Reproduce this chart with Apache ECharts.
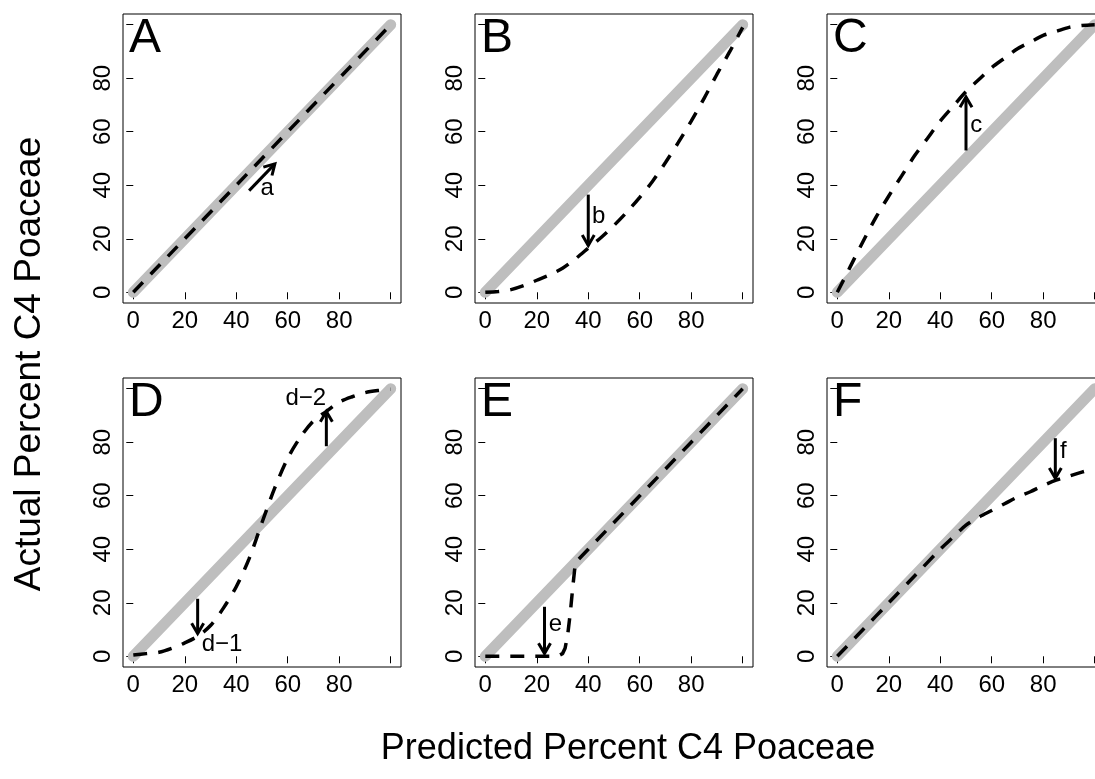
<!DOCTYPE html>
<html>
<head>
<meta charset="utf-8">
<script src="https://cdn.jsdelivr.net/npm/echarts@6/dist/echarts.min.js"></script>
<style>
  html, body { margin: 0; padding: 0; background: #fff; }
  #chart { width: 1095px; height: 779px; }
</style>
</head>
<body>
<div id="chart"></div>
<script>
// panels
const panelNames = ['A', 'B', 'C', 'D', 'E', 'F']

// 1:1 reference line (grey)
const oneToOneX = [0, 100]
const oneToOneY = [0, 100]

// dashed curves: predicted (x) vs actual (y)
const predA = [0, 100]
const actualA = [0, 100]
const predB = [0, 5, 10, 15, 20, 25, 30, 35, 40, 45, 50, 55, 60, 65, 70, 75, 80, 85, 90, 95, 100]
const actualB = [0, 0.3, 1, 2.5, 4.5, 6.5, 9, 12.5, 16.5, 20.5, 25, 30, 35.5, 41.5, 48.5, 56, 64, 72.5, 81.5, 90, 99]
const predC = [0, 5, 10, 15, 20, 25, 30, 35, 40, 45, 50, 55, 60, 65, 70, 75, 80, 85, 90, 95, 100]
const actualC = [0, 9.5, 19, 28, 36, 43.5, 51, 57.5, 64, 69.5, 75, 79.5, 84, 87.5, 91, 93.5, 96, 97.5, 99, 99.7, 100]
const predD = [0, 5, 10, 15, 20, 25, 30, 35, 40, 45, 50, 55, 60, 65, 70, 75, 80, 85, 90, 95, 100]
const actualD = [0.5, 1, 1.5, 3, 5, 7.5, 11.5, 18, 26, 36.5, 50, 63, 74, 82, 88, 91.5, 95, 97, 98.5, 99.3, 99.8]
const predE = [0, 10, 20, 27, 29, 30, 31, 32, 33, 34, 35, 40, 50, 60, 70, 80, 90, 100]
const actualE = [0, 0, 0, 0, 0.5, 1, 3, 8, 16, 26, 35, 40, 50, 60, 70, 80, 90, 100]
const predF = [0, 10, 20, 30, 40, 45, 50, 55, 60, 65, 70, 75, 80, 85, 90, 95, 100]
const actualF = [0, 10, 20, 30, 40, 44.5, 49, 52, 54.5, 57, 59.5, 61.5, 63.8, 65.8, 67.3, 68.8, 70.2]

const predAll = [predA, predB, predC, predD, predE, predF]
const actualAll = [actualA, actualB, actualC, actualD, actualE, actualF]

// arrows (tail -> head) and their letters
const arrowPanel = [0, 1, 2, 3, 3, 4, 5]
const arrowFrom = [[45, 38], [40, 36.5], [50, 53], [25, 21.5], [75, 78.5], [23, 18.5], [84.7, 81.5]]
const arrowTo = [[55, 48], [40, 17.5], [50, 73], [25, 8.5], [75, 91.5], [23, 1], [84.7, 66.5]]
const arrowText = ['a', 'b', 'c', 'd−1', 'd−2', 'e', 'f']
const arrowTextAt = [[52, 39], [44, 28.5], [54, 62.5], [34.5, 4.5], [67, 96.2], [27.2, 12], [87.8, 76.6]]

// ticks
const tickValues = [0, 20, 40, 60, 80, 100]
const labelValues = [0, 20, 40, 60, 80]

const fontFamily = '"Liberation Sans", Arial, Helvetica, sans-serif'
const colLeft = [123, 475, 827]
const rowTop = [14, 378]
const boxW = 278
const boxH = 289

const chart = echarts.init(document.getElementById('chart'))

const grids = []
const xAxes = []
const yAxes = []
const titles = []
const series = []

panelNames.forEach((name, i) => {
  const left = colLeft[i % 3]
  const top = rowTop[Math.floor(i / 3)]
  grids.push({
    left: left, top: top, width: boxW, height: boxH,
    outerBoundsMode: 'none',
    containLabel: false,
    show: true, borderColor: '#000', borderWidth: 1, backgroundColor: 'transparent'
  })
  const axisCommon = {
    gridIndex: i,
    type: 'value',
    min: -4,
    max: 104,
    axisLine: { show: false },
    splitLine: { show: false },
    axisTick: { show: true, length: 7, customValues: tickValues, lineStyle: { color: '#000', width: 1 } },
    axisLabel: { customValues: labelValues, fontSize: 24, color: '#000', fontFamily: fontFamily }
  }
  xAxes.push(Object.assign({}, axisCommon, {
    axisLabel: Object.assign({}, axisCommon.axisLabel, { margin: 6 })
  }))
  yAxes.push(Object.assign({}, axisCommon, {
    axisLabel: Object.assign({}, axisCommon.axisLabel, { margin: 8, rotate: 90 })
  }))
  titles.push({
    text: name,
    left: left + 6,
    top: top + 1,
    padding: 0,
    textStyle: { fontSize: 48, fontWeight: 'normal', color: '#000', fontFamily: fontFamily }
  })

  // grey 1:1 line
  series.push({
    type: 'line',
    xAxisIndex: i,
    yAxisIndex: i,
    data: oneToOneX.map((x, k) => [x, oneToOneY[k]]),
    symbol: 'none',
    silent: true,
    z: 1,
    lineStyle: { color: '#bebebe', width: 11, cap: 'round' }
  })
  // dashed actual curve
  series.push({
    type: 'line',
    xAxisIndex: i,
    yAxisIndex: i,
    data: predAll[i].map((x, k) => [x, actualAll[i][k]]),
    symbol: 'none',
    smooth: name === 'E' ? false : 0.3,
    silent: true,
    z: 2,
    lineStyle: { color: '#000', width: 3.5, type: [14, 11] }
  })
  // arrows with letters
  const arrowData = []
  arrowPanel.forEach((p, k) => {
    if (p === i) arrowData.push([arrowFrom[k][0], arrowFrom[k][1], arrowTo[k][0], arrowTo[k][1], k])
  })
  series.push({
    type: 'custom',
    xAxisIndex: i,
    yAxisIndex: i,
    data: arrowData,
    encode: { x: [0, 2], y: [1, 3] },
    silent: true,
    z: 3,
    renderItem: function (params, api) {
      const k = api.value(4)
      const p0 = api.coord([api.value(0), api.value(1)])
      const p1 = api.coord([api.value(2), api.value(3)])
      const ang = Math.atan2(p1[1] - p0[1], p1[0] - p0[0])
      const len = 12
      const spread = Math.PI / 6
      const h1 = [p1[0] - len * Math.cos(ang - spread), p1[1] - len * Math.sin(ang - spread)]
      const h2 = [p1[0] - len * Math.cos(ang + spread), p1[1] - len * Math.sin(ang + spread)]
      const t = api.coord(arrowTextAt[k])
      return {
        type: 'group',
        children: [
          { type: 'polyline', shape: { points: [p0, p1] }, style: { stroke: '#000', lineWidth: 3, fill: null } },
          { type: 'polyline', shape: { points: [h1, p1, h2] }, style: { stroke: '#000', lineWidth: 3, fill: null } },
          {
            type: 'text', x: t[0], y: t[1],
            style: { text: arrowText[k], fill: '#000', fontSize: 24, fontFamily: fontFamily, align: 'center', verticalAlign: 'middle' }
          }
        ]
      }
    }
  })
})

chart.setOption({
  animation: false,
  backgroundColor: '#fff',
  title: titles,
  grid: grids,
  xAxis: xAxes,
  yAxis: yAxes,
  series: series,
  graphic: [
    {
      type: 'text',
      x: 30, y: 364,
      rotation: Math.PI / 2,
      style: { text: 'Actual Percent C4 Poaceae', fill: '#000', fontSize: 37, fontFamily: fontFamily, align: 'center', verticalAlign: 'middle' }
    },
    {
      type: 'text',
      x: 628, y: 749,
      style: { text: 'Predicted Percent C4 Poaceae', fill: '#000', fontSize: 36, fontFamily: fontFamily, align: 'center', verticalAlign: 'middle' }
    }
  ]
})
</script>
</body>
</html>
